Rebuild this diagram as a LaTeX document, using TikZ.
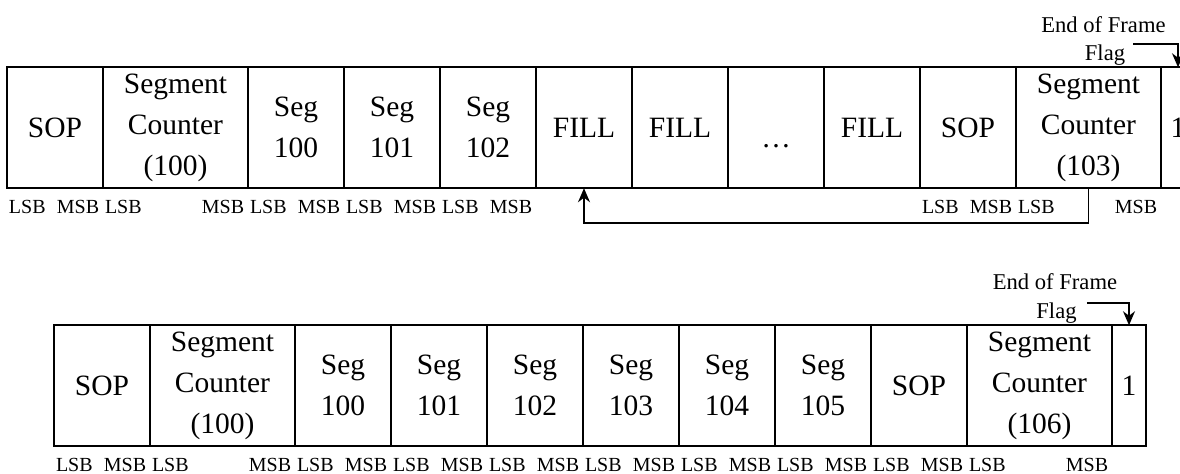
\documentclass[tikz,border=0pt]{standalone}
\usepackage{fontspec}
\setmainfont{Liberation Serif}
\usetikzlibrary{arrows.meta,positioning}
\tikzset{
  >={Stealth[length=7pt,width=6pt]},
  % ramens fält
  cell/.style={draw,line width=1.15pt,inner sep=0pt,outer sep=0pt,
               minimum width=48pt,minimum height=60.5pt,align=center,
               font=\fontsize{14.75}{20.5}\selectfont},
  wcell/.style={cell,minimum width=72.5pt},
  ncell/.style={cell,minimum width=17pt},
  bits/.style={font=\fontsize{10}{12}\selectfont,inner sep=0pt},
  note/.style={font=\fontsize{11.3}{13}\selectfont,inner sep=0pt},
  % pilar
  flagline/.style={->,line width=0.85pt},
  backline/.style={->,line width=0.85pt},
}

\begin{document}
\begin{tikzpicture}[x=0.5pt,y=-0.5pt]
  \clip (0,0) rectangle (1180,474);
  % övre ramen
  \node[cell]  (tsop1)   at (55,127.75)     {SOP};
  \node[wcell] (tcnt1)   at (175.5,127.75)  {Segment\\Counter\\(100)};
  \node[cell]  (tseg100) at (296,127.75)    {Seg\\100};
  \node[cell]  (tseg101) at (392,127.75)    {Seg\\101};
  \node[cell]  (tseg102) at (488,127.75)    {Seg\\102};
  \node[cell]  (tfill1)  at (584,127.75)    {FILL};
  \node[cell]  (tfill2)  at (680,127.75)    {FILL};
  \node[cell]  (tdots)   at (776,127.75)    {\smash{\raisebox{-10pt}{\dots}}};
  \node[cell]  (tfill3)  at (872,127.75)    {FILL};
  \node[cell]  (tsop2)   at (968,127.75)    {SOP};
  \node[wcell] (tcnt2)   at (1088.5,127.75) {Segment\\Counter\\(103)};
  \node[ncell] (tone)    at (1178,127.75)   {1};
  \node[note] (teof)  at (1103.5,25) {End of Frame};
  \node[note] (tflag) at (1105,55)   {Flag};
  \draw[flagline] ([xshift=4pt]tflag.north east) -| (tone.north);
  \draw[backline] (tcnt2.south) -- ++(0,35) -| (tfill1.south);
  % nedre ramen
  \node[cell]  (bsop1)   at (102,385.75)    {SOP};
  \node[wcell] (bcnt1)   at (222.5,385.75)  {Segment\\Counter\\(100)};
  \node[cell]  (bseg100) at (343,385.75)    {Seg\\100};
  \node[cell]  (bseg101) at (439,385.75)    {Seg\\101};
  \node[cell]  (bseg102) at (535,385.75)    {Seg\\102};
  \node[cell]  (bseg103) at (631,385.75)    {Seg\\103};
  \node[cell]  (bseg104) at (727,385.75)    {Seg\\104};
  \node[cell]  (bseg105) at (823,385.75)    {Seg\\105};
  \node[cell]  (bsop2)   at (919,385.75)    {SOP};
  \node[wcell] (bcnt2)   at (1039.5,385.75) {Segment\\Counter\\(106)};
  \node[ncell] (bone)    at (1129,385.75)   {1};
  \node[note] (beof)  at (1055,281.7)  {End of Frame};
  \node[note] (bflag) at (1056.5,313.5) {Flag};
  \draw[flagline] ([xshift=5pt]bflag.north east) -| (bone.north);
  % bitordning under fälten
  \foreach \c in {tsop1,tcnt1,tseg100,tseg101,tseg102,tsop2,tcnt2,
                  bsop1,bcnt1,bseg100,bseg101,bseg102,bseg103,bseg104,bseg105,bsop2,bcnt2}{
    \node[bits,anchor=west] (\c-lsb) at ([xshift=0.8pt,yshift=-9.5pt]\c.south west) {LSB};
    \node[bits,anchor=east] (\c-msb) at ([xshift=-1.7pt,yshift=-9.5pt]\c.south east) {MSB};
  }
\end{tikzpicture}
\end{document}
